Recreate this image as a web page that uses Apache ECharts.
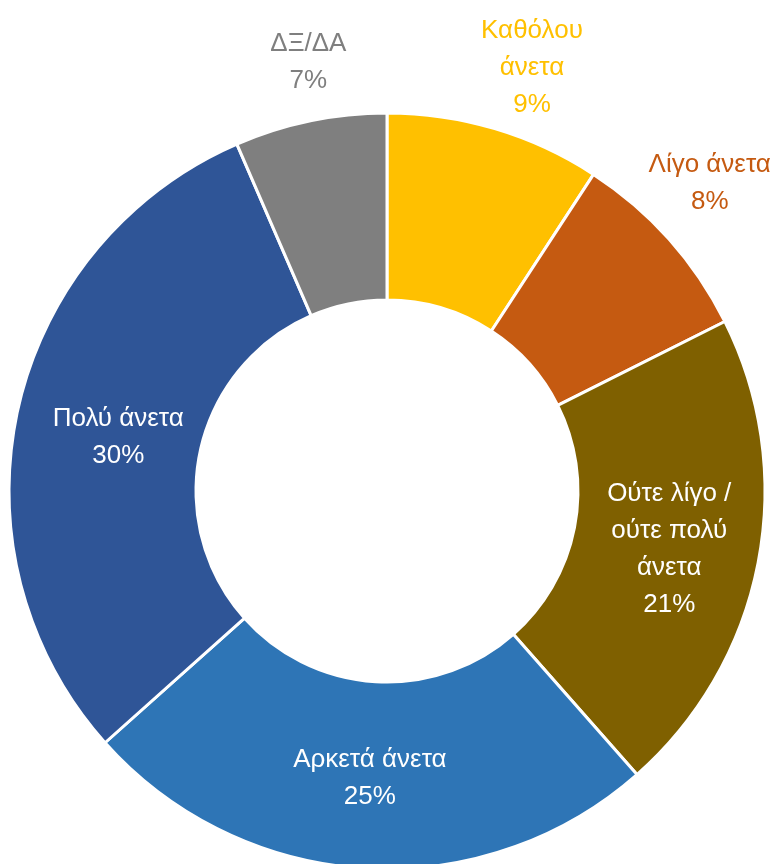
<!DOCTYPE html>
<html>
<head>
<meta charset="utf-8">
<script src="https://cdn.jsdelivr.net/npm/echarts@6/dist/echarts.min.js"></script>
<style>
  html, body { margin: 0; padding: 0; background: #fff; }
  #chart { width: 772px; height: 864px; }
</style>
</head>
<body>
<div id="chart"></div>
<script>
var categories = ['Καθόλου\nάνετα', 'Λίγο άνετα', 'Ούτε λίγο /\nούτε πολύ\nάνετα', 'Αρκετά άνετα', 'Πολύ άνετα', 'ΔΞ/ΔΑ'];
var values = [9.2, 8.4, 20.9, 24.9, 30.1, 6.5];
var colors = ['#FFC000', '#C55A11', '#7F6000', '#2E75B6', '#2F5597', '#7F7F7F'];
var outsideLabel = [true, true, false, false, false, true];
// small nudges of the labels from where ECharts puts them
var labelShiftX = [14, -12, 0, 0, 12, 16];
var labelShiftY = [0, -13, 4, 0, 8, 4];

var font = "'Liberation Sans Narrow', 'Arial Narrow', 'Liberation Sans', sans-serif";

var myChart = echarts.init(document.getElementById('chart'));

var data = categories.map(function (name, i) {
    var item = {
        name: name,
        value: values[i],
        itemStyle: { color: colors[i] }
    };
    if (outsideLabel[i]) {
        item.label = {
            position: 'outside',
            color: colors[i]
        };
    }
    return item;
});

var option = {
    animation: false,
    series: [{
        type: 'pie',
        center: [387, 491],
        radius: [191, 378],
        startAngle: 90,
        clockwise: true,
        avoidLabelOverlap: false,
        itemStyle: {
            borderColor: '#fff',
            borderWidth: 3
        },
        label: {
            show: true,
            position: 'inside',
            formatter: function (p) {
                return p.name + '\n' + Math.round(p.value) + '%';
            },
            color: '#fff',
            fontFamily: font,
            fontSize: 26,
            lineHeight: 37,
            align: 'center'
        },
        labelLine: {
            show: false,
            length: 64,
            length2: 0
        },
        labelLayout: function (params) {
            var i = params.dataIndex;
            var res = { dx: labelShiftX[i], dy: labelShiftY[i] };
            if (outsideLabel[i]) {
                res.align = 'center';
                res.verticalAlign = 'middle';
            }
            return res;
        },
        data: data
    }]
};

myChart.setOption(option);
</script>
</body>
</html>
